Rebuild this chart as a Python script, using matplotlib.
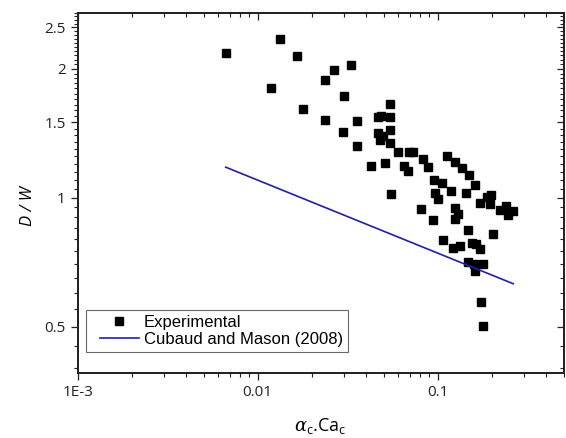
import numpy as np
import matplotlib
matplotlib.use("Agg")
import matplotlib.pyplot as plt
from matplotlib.ticker import FixedLocator, NullFormatter, LogLocator, FixedFormatter
from matplotlib.legend_handler import HandlerLine2D

# ---- data ----
exp_x = [0.00664, 0.0133, 0.0166, 0.0118, 0.0178, 0.0238, 0.0265, 0.0331, 0.0303, 0.0237,
         0.0354, 0.0298, 0.0358, 0.0425, 0.0510, 0.0542, 0.0463, 0.0484, 0.0543, 0.0468,
         0.0499, 0.0543, 0.0475, 0.0543, 0.0598, 0.0697, 0.0729, 0.0648, 0.0680, 0.0552,
         0.0831, 0.0880, 0.0951, 0.106, 0.112, 0.124, 0.137, 0.149, 0.161, 0.119,
         0.0969, 0.144, 0.101, 0.171, 0.187, 0.198, 0.195, 0.221, 0.239, 0.263,
         0.246, 0.0811, 0.0944, 0.124, 0.130, 0.124, 0.147, 0.204, 0.107, 0.121,
         0.133, 0.155, 0.163, 0.171, 0.148, 0.160, 0.179, 0.161, 0.173, 0.178]
exp_y = [2.175, 2.353, 2.145, 1.802, 1.616, 1.888, 1.985, 2.039, 1.726, 1.523,
         1.509, 1.428, 1.321, 1.185, 1.207, 1.658, 1.543, 1.552, 1.545, 1.420,
         1.395, 1.437, 1.364, 1.344, 1.281, 1.280, 1.278, 1.185, 1.156, 1.018,
         1.234, 1.180, 1.103, 1.080, 1.250, 1.211, 1.172, 1.130, 1.074, 1.036,
         1.027, 1.027, 0.991, 0.973, 1.004, 1.015, 0.965, 0.935, 0.958, 0.930,
         0.914, 0.944, 0.888, 0.948, 0.919, 0.891, 0.839, 0.825, 0.799, 0.764,
         0.771, 0.786, 0.782, 0.760, 0.708, 0.702, 0.702, 0.673, 0.572, 0.501]

model_x = [0.00664, 0.263]
model_y = [1.179, 0.630]

x_major = [1e-3, 1e-2, 1e-1]
x_major_labels = ["1E-3", "0.01", "0.1"]
y_major = [0.5, 1.0, 1.5, 2.0, 2.5]
y_major_labels = ["0.5", "1", "1.5", "2", "2.5"]

# ---- styling ----
plt.rcParams['mathtext.fontset'] = 'custom'
plt.rcParams['mathtext.rm'] = 'Open Sans'
plt.rcParams['mathtext.it'] = 'DejaVu Serif:italic'

INK = '#222222'

fig = plt.figure(figsize=(5.66, 4.38), dpi=100)
ax = fig.add_axes([0.1373, 0.1484, 0.8583, 0.8219])

ax.plot(exp_x, exp_y, linestyle='none', marker='s', markersize=6.2,
        color='black', label='Experimental', zorder=3)
ax.plot(model_x, model_y, color='#1f1fae', linewidth=1.2,
        label='Cubaud and Mason (2008)', zorder=4)

ax.set_xscale('log')
ax.set_yscale('log')
xlim = (1e-3, 0.5)
ylim = (0.39, 2.7)
ax.set_xlim(*xlim)
ax.set_ylim(*ylim)

y_minor = [v for v in np.round(np.arange(0.40, 2.701, 0.05), 2) if v not in y_major]

ax.xaxis.set_major_locator(FixedLocator(x_major))
ax.xaxis.set_minor_locator(LogLocator(base=10, subs=np.arange(2, 10)))
ax.yaxis.set_major_locator(FixedLocator(y_major))
ax.yaxis.set_minor_locator(FixedLocator(y_minor))
ax.xaxis.set_minor_formatter(NullFormatter())
ax.yaxis.set_minor_formatter(NullFormatter())
ax.xaxis.set_major_formatter(FixedFormatter(x_major_labels))
ax.yaxis.set_major_formatter(FixedFormatter(y_major_labels))

ax.tick_params(which='major', direction='out', length=5, width=0.9, pad=3.5,
               labelsize=11, colors=INK, labelcolor=INK)
ax.tick_params(which='minor', direction='out', length=3, width=0.8, colors=INK)
for lab in ax.get_xticklabels() + ax.get_yticklabels():
    lab.set_fontfamily('Open Sans')

# mirrored inward ticks on top/right
axr = ax.twinx()
axr.set_yscale('log'); axr.set_ylim(*ylim)
axr.yaxis.set_major_locator(FixedLocator(y_major))
axr.yaxis.set_minor_locator(FixedLocator(y_minor))
axr.tick_params(axis='y', which='major', direction='in', length=5, width=0.9, labelright=False, colors=INK)
axr.tick_params(axis='y', which='minor', direction='in', length=3, width=0.8, labelright=False, colors=INK)
axt = ax.twiny()
axt.set_xscale('log'); axt.set_xlim(*xlim)
axt.xaxis.set_major_locator(FixedLocator(x_major))
axt.xaxis.set_minor_locator(LogLocator(base=10, subs=np.arange(2, 10)))
axt.tick_params(axis='x', which='major', direction='in', length=5, width=0.9, labeltop=False, colors=INK)
axt.tick_params(axis='x', which='minor', direction='in', length=3, width=0.8, labeltop=False, colors=INK)
for a in (ax, axr, axt):
    for s in a.spines.values():
        s.set_linewidth(1.1)
        s.set_color(INK)

ax.set_xlabel(r'$\alpha_{\mathrm{c}}$.Ca$_{\mathrm{c}}$', fontsize=13, fontfamily='Open Sans', labelpad=12)
ax.set_ylabel('D / W', fontsize=12, fontfamily='Open Sans', fontstyle='italic')
ax.yaxis.set_label_coords(-0.086, 0.464)


class ShiftedHandler(HandlerLine2D):
    shift = 6.5  # points

    def create_artists(self, legend, orig_handle, xdescent, ydescent, width, height, fontsize, trans):
        return super().create_artists(legend, orig_handle, xdescent - self.shift, ydescent,
                                      width - self.shift, height, fontsize, trans)


handles, labels = ax.get_legend_handles_labels()
leg = ax.legend(handles, labels, loc='lower left', bbox_to_anchor=(0.017, 0.058),
                prop={'family': 'Liberation Sans', 'size': 12},
                frameon=True, fancybox=False, edgecolor='#444444', handlelength=2.87,
                handletextpad=0.3, borderpad=0.3, labelspacing=0.15, borderaxespad=0.0,
                handler_map={h: ShiftedHandler() for h in handles})
leg.get_frame().set_linewidth(0.8)

fig.savefig('out.png', dpi=100)
